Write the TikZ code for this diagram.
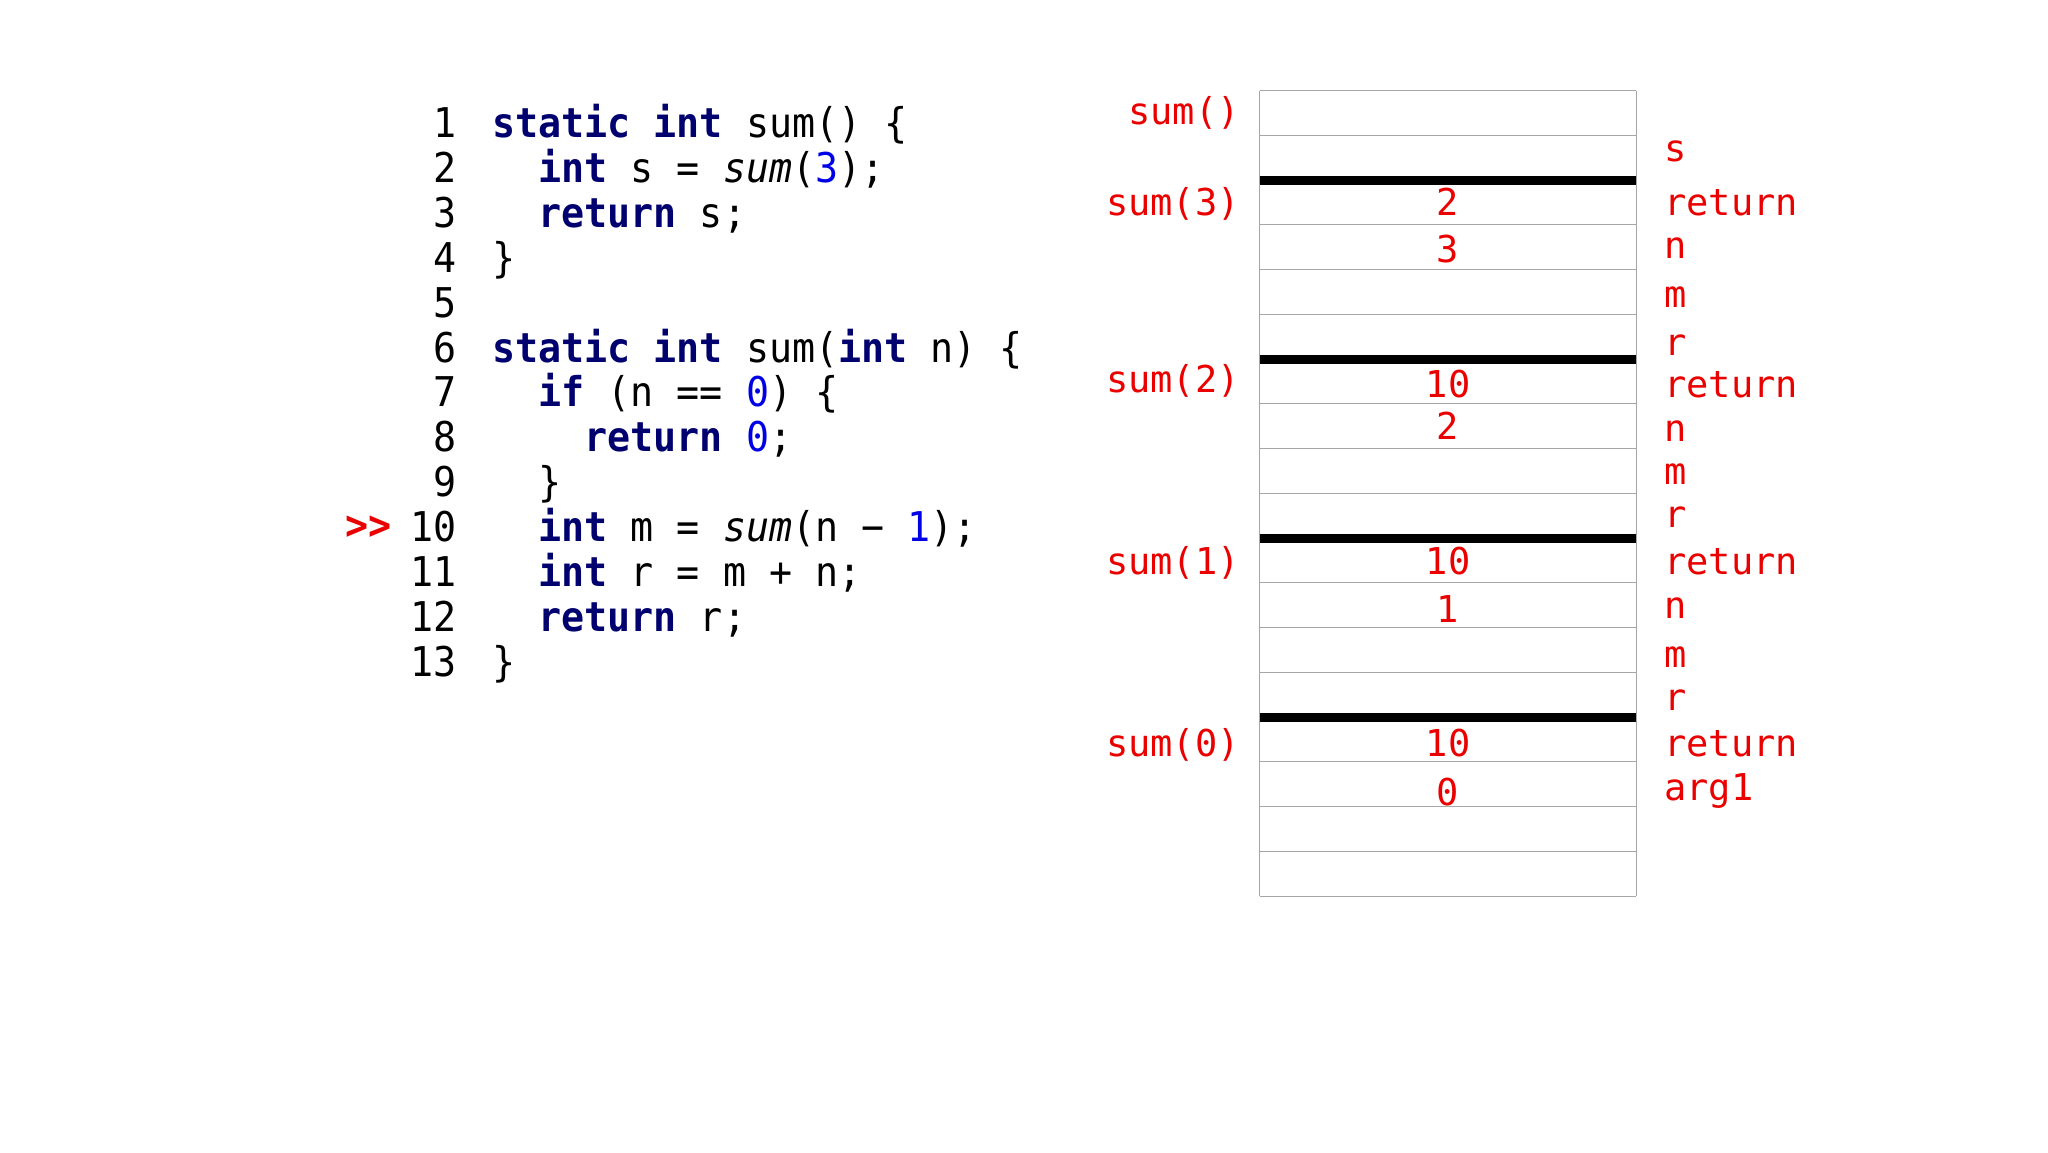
\documentclass[tikz,border=0pt]{standalone}
\usepackage{fontspec}
\setmonofont{DejaVu Sans Mono}
\newfontfamily\codefont[FakeStretch=0.935]{DejaVu Sans Mono}
\definecolor{kw}{RGB}{0,0,110}
\definecolor{num}{RGB}{0,0,230}
\definecolor{lab}{RGB}{235,0,0}
\newcommand\kw[1]{\textcolor{kw}{\bfseries #1}}
\newcommand\nm[1]{\textcolor{num}{#1}}
\begin{document}
\begin{tikzpicture}[x=1pt,y=1pt,
  code/.style={font=\codefont\fontsize{41}{41}\selectfont,anchor=west,inner sep=0,text height=30pt,text depth=9pt},
  lno/.style={code,anchor=east},
  lbl/.style={font=\ttfamily\fontsize{37}{37}\selectfont,text=lab,inner sep=0,text height=27pt,text depth=8pt},
  thin/.style={draw=gray!70,line width=1.2pt},
  thick/.style={draw=black,line width=9pt}]
\useasboundingbox (0,0) rectangle (2048,-1152);
% code
\def\cw{23.1}
\foreach \n [count=\i] in {1,...,13}{ \node[lno] (l\n) at (457,{-127-(\i-1)*44.9}) {\n}; }
\node[code] (c1) at (492,-127) {\kw{static int} sum() \{};
\node[code] (c2) at (492+2*\cw,-171.9) {\kw{int} s = \textit{sum}(\nm{3});};
\node[code] (c3) at (492+2*\cw,-216.8) {\kw{return} s;};
\node[code] (c4) at (492,-261.7) {\}};
\node[code] (c6) at (492,-351.5) {\kw{static int} sum(\kw{int} n) \{};
\node[code] (c7) at (492+2*\cw,-396.4) {\kw{if} (n == \nm{0}) \{};
\node[code] (c8) at (492+4*\cw,-441.3) {\kw{return} \nm{0};};
\node[code] (c9) at (492+2*\cw,-486.2) {\}};
\node[code] (c10) at (492+2*\cw,-531.1) {\kw{int} m = \textit{sum}(n − \nm{1});};
\node[code] (c11) at (492+2*\cw,-576) {\kw{int} r = m + n;};
\node[code] (c12) at (492+2*\cw,-620.9) {\kw{return} r;};
\node[code] (c13) at (492,-665.8) {\}};
\node[lno,text=lab] (ptr) at (392,-529) {\bfseries >>};
% stack
\def\L{1259.6}\def\R{1636.3}\def\T{-90.6}\def\h{44.75}
\foreach \i in {0,...,18}{ \draw[thin] (\L,{\T-\i*\h}) -- (\R,{\T-\i*\h}); }
\draw[thin] (\L,\T) -- (\L,{\T-18*\h}); \draw[thin] (\R,\T) -- (\R,{\T-18*\h});
\foreach \i in {2,6,10,14}{ \draw[thick] (\L,{\T-\i*\h}) -- (\R,{\T-\i*\h}); }
% left labels
\foreach \t/\y [count=\k] in {sum()/115,sum(3)/206,sum(2)/383,sum(1)/565,sum(0)/747}{
  \node[lbl,anchor=east] (f\k) at (1240,-\y) {\t}; }
% right labels
\foreach \t/\y [count=\k] in {s/152,return/206,n/249,m/298,r/346,return/388,n/432,m/475,r/518,return/565,n/609,m/658,r/701,return/747,arg1/791}{
  \node[lbl,anchor=west] (v\k) at (1664,-\y) {\t}; }
% values
\foreach \t/\y [count=\k] in {2/206,3/253,10/388,2/430,10/565,1/613,10/747,0/796}{
  \node[lbl] (d\k) at (1448,-\y) {\t}; }
\end{tikzpicture}
\end{document}
